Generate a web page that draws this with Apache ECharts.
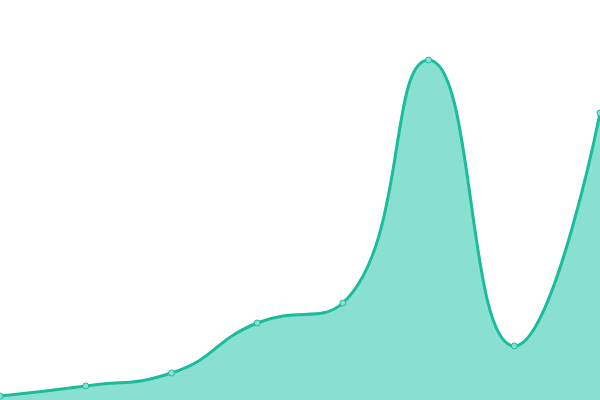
<!DOCTYPE html>
<html><head><meta charset="utf-8">
<script src="https://cdn.jsdelivr.net/npm/echarts@6/dist/echarts.min.js"></script>
<style>html,body{margin:0;padding:0;background:#fff}#c{width:600px;height:400px}</style>
</head><body><div id="c"></div>
<script>
const categories = ['1','2','3','4','5','6','7','8'];
const values = [4, 14, 27, 77, 97, 340, 54, 287];
const chart = echarts.init(document.getElementById('c'));
chart.setOption({
  animation: false,
  grid: {left: 0, right: 0, top: 0, bottom: 0},
  xAxis: {type: 'category', data: categories, boundaryGap: false, show: false},
  yAxis: {type: 'value', min: 0, max: 400, show: false},
  series: [{
    type: 'line',
    data: values,
    smooth: true,
    symbol: 'circle',
    symbolSize: 6,
    lineStyle: {color: '#1abc9c', width: 3},
    itemStyle: {color: '#8ae0d0', borderColor: '#1abc9c', borderWidth: 1},
    areaStyle: {color: '#8ae0d0', opacity: 1}
  }]
});
</script></body></html>
